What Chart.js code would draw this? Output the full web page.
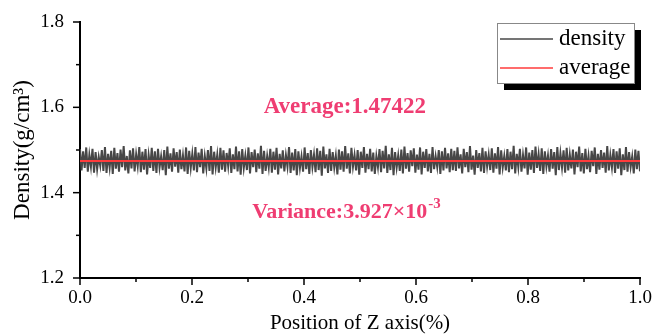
<!DOCTYPE html>
<html lang="en">
<head>
  <meta charset="UTF-8" />
  <title>Density along Z axis</title>
  <script src="https://cdn.jsdelivr.net/npm/chart.js"></script>
  <style>
    body {
      margin: 0;
      background: #ffffff;
    }
    canvas {
      display: block;
    }
  </style>
</head>
<body>
  <canvas id="chart" width="653" height="336"></canvas>

  <script>
    // === Data ===
    const density = [
      1.502,1.452,1.497,1.458,1.506,1.449,1.489,1.461,1.503,1.447,1.495,1.455,1.484,1.463,1.500,1.451,1.507,1.446,1.491,1.459,1.498,1.444,1.505,1.456,
      1.493,1.449,1.501,1.460,1.509,1.452,1.486,1.445,1.499,1.457,1.504,1.450,1.490,1.462,1.507,1.448,1.496,1.454,1.502,1.443,1.488,1.458,1.505,1.451,
      1.497,1.446,1.503,1.459,1.485,1.453,1.500,1.441,1.508,1.456,1.492,1.449,1.504,1.461,1.495,1.447,1.501,1.455,1.487,1.450,1.506,1.444,1.498,1.458,
      1.491,1.452,1.507,1.448,1.494,1.460,1.503,1.445,1.486,1.457,1.500,1.451,1.509,1.443,1.496,1.459,1.489,1.447,1.505,1.454,1.499,1.449,1.493,1.462,
      1.504,1.446,1.490,1.455,1.508,1.450,1.497,1.442,1.502,1.458,1.487,1.453,1.506,1.445,1.495,1.460,1.501,1.448,1.492,1.456,1.510,1.444,1.498,1.451,
      1.486,1.459,1.503,1.447,1.496,1.454,1.505,1.443,1.491,1.457,1.499,1.450,1.488,1.461,1.507,1.446,1.494,1.452,1.502,1.441,1.497,1.458,1.485,1.449,
      1.506,1.455,1.493,1.444,1.500,1.460,1.489,1.448,1.504,1.453,1.498,1.440,1.508,1.457,1.490,1.446,1.503,1.451,1.495,1.459,1.487,1.443,1.501,1.454,
      1.497,1.449,1.509,1.456,1.492,1.445,1.505,1.461,1.488,1.452,1.500,1.442,1.496,1.458,1.507,1.447,1.491,1.455,1.503,1.450,1.494,1.444,1.486,1.460,
      1.502,1.448,1.498,1.457,1.510,1.446,1.490,1.453,1.505,1.441,1.495,1.459,1.487,1.451,1.501,1.445,1.508,1.456,1.493,1.449,1.499,1.462,1.504,1.447,
      1.489,1.454,1.506,1.443,1.496,1.458,1.502,1.450,1.491,1.446,1.507,1.455,1.485,1.460,1.500,1.444,1.497,1.452,1.505,1.457,1.492,1.448,1.503,1.453,
      1.498,1.451,1.506,1.457,1.490,1.445,1.503,1.460,1.495,1.448,1.509,1.454,1.487,1.442,1.500,1.458,1.493,1.450,1.505,1.446,1.497,1.461,1.489,1.453,
      1.504,1.447,1.492,1.456,1.507,1.443,1.499,1.459,1.486,1.452,1.502,1.448,1.496,1.455,1.510,1.445,1.491,1.460,1.503,1.449,1.488,1.457,1.506,1.442,
      1.494,1.454,1.500,1.446,1.508,1.458,1.490,1.451,1.504,1.444,1.497,1.461,1.487,1.449,1.502,1.456,1.495,1.441,1.507,1.453,1.492,1.459,1.499,1.447,
      1.505,1.452,1.489,1.457,1.501,1.443,1.496,1.460,1.508,1.450,1.493,1.445,1.503,1.455,1.486,1.448,1.498,1.462,1.506,1.444,1.491,1.454,1.500,1.458,
      1.494,1.447,1.509,1.452,1.488,1.459,1.502,1.446,1.497,1.456,1.504,1.441,1.490,1.453,1.507,1.449,1.495,1.460,1.485,1.445,1.501,1.455,1.498,1.450
    ];
    const averageValue = 1.47422;
    const averageLabel = "Average:1.47422";
    const varianceLabel = "Variance:3.927\u00d710";
    const varianceExponent = "-3";
    const legendLabels = ["density", "average"];

    const xRange = [0, 1];
    const yRange = [1.2, 1.8];

    const serif = '"Liberation Serif", "DejaVu Serif", serif';
    const densityColor = "#474747";
    const averageColor = "#ff3b3b";
    const noteColor = "#ef3d72";

    // positions along the axis for each sample
    const densityPoints = density.map((v, i) => ({ x: i / (density.length - 1), y: v }));
    const averagePoints = xRange.map(x => ({ x: x, y: averageValue }));

    // === Ticks, notes and legend drawn on top ===
    const decorations = {
      id: "decorations",
      afterDraw(chart) {
        const { ctx, chartArea, scales: { x, y } } = chart;
        ctx.save();

        // ticks (major + minor), outward
        ctx.strokeStyle = "#000";
        ctx.lineWidth = 1.5;
        for (let i = 0; i <= 10; i++) {
          const px = x.getPixelForValue(i / 10);
          const len = i % 2 === 0 ? 7 : 4;
          ctx.beginPath();
          ctx.moveTo(px, chartArea.bottom);
          ctx.lineTo(px, chartArea.bottom + len);
          ctx.stroke();
        }
        for (let i = 12; i <= 18; i++) {
          const py = y.getPixelForValue(i / 10);
          const len = i % 2 === 0 ? 7 : 4;
          ctx.beginPath();
          ctx.moveTo(chartArea.left, py);
          ctx.lineTo(chartArea.left - len, py);
          ctx.stroke();
        }

        // notes
        ctx.fillStyle = noteColor;
        ctx.font = "bold 23px " + serif;
        ctx.textBaseline = "middle";
        ctx.textAlign = "center";
        ctx.fillText(averageLabel, x.getPixelForValue(0.473), y.getPixelForValue(1.6));

        ctx.font = "bold 22px " + serif;
        const baseW = ctx.measureText(varianceLabel).width;
        ctx.font = "bold 15px " + serif;
        const expW = ctx.measureText(varianceExponent).width;
        const cx = x.getPixelForValue(0.475);
        const vy = y.getPixelForValue(1.355);
        const startX = cx - (baseW + expW) / 2;
        ctx.textAlign = "left";
        ctx.font = "bold 22px " + serif;
        ctx.fillText(varianceLabel, startX, vy);
        ctx.font = "bold 15px " + serif;
        ctx.fillText(varianceExponent, startX + baseW + 1, vy - 8);

        // legend box with shadow
        const bx = chartArea.right - 143, by = chartArea.top + 1, bw = 137, bh = 60;
        ctx.fillStyle = "#000";
        ctx.fillRect(bx + 7, by + 7, bw, bh);
        ctx.fillStyle = "#fff";
        ctx.fillRect(bx, by, bw, bh);
        ctx.strokeStyle = "#888";
        ctx.lineWidth = 1;
        ctx.strokeRect(bx + 0.5, by + 0.5, bw, bh);

        const rows = [
          { text: legendLabels[0], color: densityColor, y: by + 16 },
          { text: legendLabels[1], color: averageColor, y: by + 45 }
        ];
        ctx.font = "23px " + serif;
        ctx.textAlign = "left";
        rows.forEach(r => {
          ctx.strokeStyle = r.color;
          ctx.lineWidth = 1.5;
          ctx.beginPath();
          ctx.moveTo(bx + 3, r.y);
          ctx.lineTo(bx + 56, r.y);
          ctx.stroke();
          ctx.fillStyle = "#000";
          ctx.fillText(r.text, bx + 62, r.y);
        });

        ctx.restore();
      }
    };

    // === Chart ===
    const ctx = document.getElementById("chart").getContext("2d");
    const chart = new Chart(ctx, {
      type: "line",
      data: {
        datasets: [
          {
            label: legendLabels[0],
            data: densityPoints,
            borderColor: densityColor,
            borderWidth: 2,
            pointRadius: 0,
            tension: 0,
            fill: false,
            order: 1
          },
          {
            label: legendLabels[1],
            data: averagePoints,
            borderColor: averageColor,
            borderWidth: 2,
            pointRadius: 0,
            fill: false,
            order: 0
          }
        ]
      },
      options: {
        responsive: false,
        animation: false,
        layout: {
          padding: { top: 22, right: 13, left: 0, bottom: 0 }
        },
        plugins: {
          legend: { display: false },
          tooltip: { enabled: false }
        },
        scales: {
          x: {
            type: "linear",
            min: xRange[0],
            max: xRange[1],
            afterFit: s => { s.height = 58; s.paddingLeft = 0; s.paddingRight = 0; },
            grid: { display: false, drawTicks: false },
            border: { display: true, color: "#000", width: 2 },
            ticks: {
              stepSize: 0.2,
              padding: 9,
              color: "#000",
              font: { family: serif, size: 19 },
              callback: v => v.toFixed(1)
            },
            title: {
              display: true,
              text: "Position of Z axis(%)",
              color: "#000",
              font: { family: serif, size: 21 },
              padding: { top: 0, bottom: 0 }
            }
          },
          y: {
            min: yRange[0],
            max: yRange[1],
            afterFit: s => { s.width = 80; s.paddingTop = 0; s.paddingBottom = 0; },
            grid: { display: false, drawTicks: false },
            border: { display: true, color: "#000", width: 2 },
            ticks: {
              stepSize: 0.2,
              padding: 16,
              color: "#000",
              font: { family: serif, size: 19 },
              callback: v => v.toFixed(1)
            },
            title: {
              display: true,
              text: "Density(g/cm\u00b3)",
              color: "#000",
              font: { family: serif, size: 23 },
              padding: { top: 9, bottom: 0 }
            }
          }
        }
      },
      plugins: [decorations]
    });
  </script>
</body>
</html>
